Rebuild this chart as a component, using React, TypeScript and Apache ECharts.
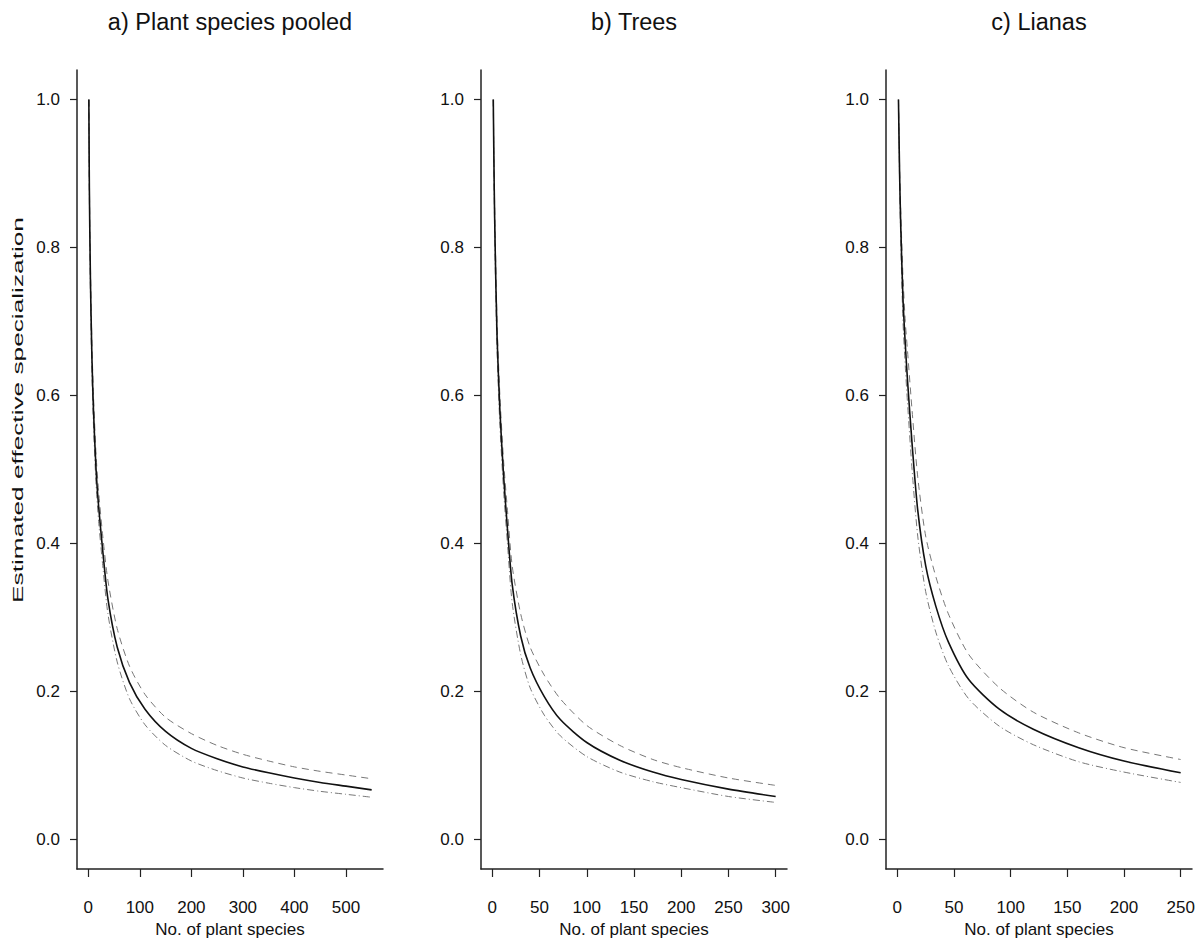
import React, { useEffect, useRef } from "react";
import * as echarts from "echarts";

// Panel a) Plant species pooled
const A_X = [1, 2, 4, 7, 10, 15, 20, 28, 38, 56, 80, 110, 150, 200, 250, 300, 350, 400, 450, 500, 550];
const A_MAIN = [1.0, 0.88, 0.76, 0.65, 0.58, 0.5, 0.45, 0.39, 0.325, 0.26, 0.212, 0.176, 0.146, 0.123, 0.109, 0.098, 0.09, 0.083, 0.077, 0.072, 0.067];
const A_UPPER = [1.0, 0.89, 0.78, 0.67, 0.6, 0.52, 0.47, 0.41, 0.35, 0.285, 0.234, 0.196, 0.165, 0.143, 0.127, 0.115, 0.106, 0.098, 0.092, 0.087, 0.082];
const A_LOWER = [1.0, 0.87, 0.74, 0.63, 0.56, 0.48, 0.43, 0.37, 0.305, 0.24, 0.19, 0.155, 0.127, 0.106, 0.093, 0.083, 0.076, 0.07, 0.065, 0.061, 0.057];

// Panel b) Trees
const B_X = [1, 2, 3, 5, 8, 12, 16, 21, 30, 40, 55, 72, 100, 135, 170, 200, 250, 300];
const B_MAIN = [1.0, 0.88, 0.8, 0.68, 0.58, 0.49, 0.42, 0.345, 0.275, 0.232, 0.193, 0.162, 0.131, 0.107, 0.091, 0.081, 0.068, 0.058];
const B_UPPER = [1.0, 0.89, 0.82, 0.7, 0.6, 0.51, 0.445, 0.37, 0.305, 0.26, 0.222, 0.19, 0.154, 0.127, 0.108, 0.097, 0.083, 0.073];
const B_LOWER = [1.0, 0.87, 0.78, 0.66, 0.56, 0.47, 0.4, 0.32, 0.25, 0.205, 0.168, 0.14, 0.112, 0.091, 0.078, 0.07, 0.058, 0.05];

// Panel c) Lianas
const C_X = [1, 2, 3, 5, 7, 9, 13, 18, 25, 34, 45, 63, 90, 120, 160, 200, 250];
const C_MAIN = [1.0, 0.9, 0.83, 0.73, 0.67, 0.62, 0.535, 0.445, 0.37, 0.315, 0.267, 0.216, 0.176, 0.149, 0.124, 0.106, 0.09];
const C_UPPER = [1.0, 0.91, 0.85, 0.76, 0.7, 0.66, 0.58, 0.49, 0.41, 0.355, 0.305, 0.25, 0.205, 0.172, 0.144, 0.124, 0.108];
const C_LOWER = [1.0, 0.89, 0.81, 0.7, 0.64, 0.59, 0.5, 0.41, 0.335, 0.28, 0.235, 0.19, 0.153, 0.128, 0.105, 0.091, 0.077];

const TITLES = ["a) Plant species pooled", "b) Trees", "c) Lianas"];
const X_TICKS_A = [0, 100, 200, 300, 400, 500];
const X_TICKS_B = [0, 50, 100, 150, 200, 250, 300];
const X_TICKS_C = [0, 50, 100, 150, 200, 250];
const Y_TICKS = [0, 0.2, 0.4, 0.6, 0.8, 1.0];
const X_NAME = "No. of plant species";
const Y_NAME = "Estimated effective specialization";

const zip = (xs: number[], ys: number[]) => xs.map((x, i) => [x, ys[i]]);

export default function App() {
  const ref = useRef<HTMLDivElement>(null);
  useEffect(() => {
    if (!ref.current) return;
    const chart = echarts.init(ref.current, null, { renderer: "svg" });
    const font = "'Liberation Sans', Arial, sans-serif";
    const panels = [
      { x: A_X, m: A_MAIN, u: A_UPPER, l: A_LOWER, ticks: X_TICKS_A, max: 550, left: 77 },
      { x: B_X, m: B_MAIN, u: B_UPPER, l: B_LOWER, ticks: X_TICKS_B, max: 300, left: 481 },
      { x: C_X, m: C_MAIN, u: C_UPPER, l: C_LOWER, ticks: X_TICKS_C, max: 250, left: 886 },
    ];
    const W = 306;
    const grids = panels.map((p) => ({ left: p.left, top: 70, width: W, height: 799, outerBoundsMode: "none", containLabel: false }));
    const axisLine = { show: true, onZero: false, lineStyle: { color: "#222", width: 1.5 } };
    const xAxes = panels.map((p, i) => ({
      type: "value",
      gridIndex: i,
      min: -0.04 * p.max,
      max: 1.04 * p.max,
      axisLine,
      axisTick: { show: true, length: 8, customValues: p.ticks, lineStyle: { color: "#222", width: 1.2 } },
      axisLabel: { show: true, customValues: p.ticks, margin: 30, fontSize: 17, color: "#111", fontFamily: font },
      splitLine: { show: false },
      name: X_NAME,
      nameLocation: "middle",
      nameGap: 50,
      nameTextStyle: { fontSize: 17, color: "#111", fontFamily: font },
    }));
    const yAxes = panels.map((p, i) => ({
      type: "value",
      gridIndex: i,
      min: -0.04,
      max: 1.04,
      axisLine,
      axisTick: { show: true, length: 7, customValues: Y_TICKS, lineStyle: { color: "#222", width: 1.2 } },
      axisLabel: {
        show: true,
        customValues: Y_TICKS,
        margin: 17,
        fontSize: 17,
        color: "#111",
        fontFamily: font,
        formatter: (v: number) => v.toFixed(1),
      },
      splitLine: { show: false },
    }));
    const series: any[] = [];
    panels.forEach((p, i) => {
      const base = { type: "line", xAxisIndex: i, yAxisIndex: i, showSymbol: false, smooth: 0.25, silent: true };
      series.push({ ...base, data: zip(p.x, p.u), lineStyle: { color: "#777", width: 1, type: [7, 5] } });
      series.push({ ...base, data: zip(p.x, p.l), lineStyle: { color: "#777", width: 1, type: [7, 3, 1, 3] } });
      series.push({ ...base, data: zip(p.x, p.m), lineStyle: { color: "#111", width: 1.6 } });
    });
    const graphic: any[] = panels.map((p, i) => ({
      type: "text",
      x: p.left + W / 2,
      y: 22,
      style: { text: TITLES[i], fontSize: 23.5, fill: "#111", fontFamily: font, textAlign: "center", textVerticalAlign: "middle" },
    }));
    graphic.push({
      type: "text",
      x: 18,
      y: 410,
      rotation: Math.PI / 2,
      scaleX: 1.75,
      style: { text: Y_NAME, fontSize: 15, fill: "#111", fontFamily: font, textAlign: "center", textVerticalAlign: "middle" },
    });
    chart.setOption({
      animation: false,
      backgroundColor: "#fff",
      grid: grids,
      xAxis: xAxes,
      yAxis: yAxes,
      series,
      graphic,
    });
    return () => chart.dispose();
  }, []);
  return <div ref={ref} style={{ position: "fixed", left: 0, top: 0, width: 1200, height: 940 }} />;
}
